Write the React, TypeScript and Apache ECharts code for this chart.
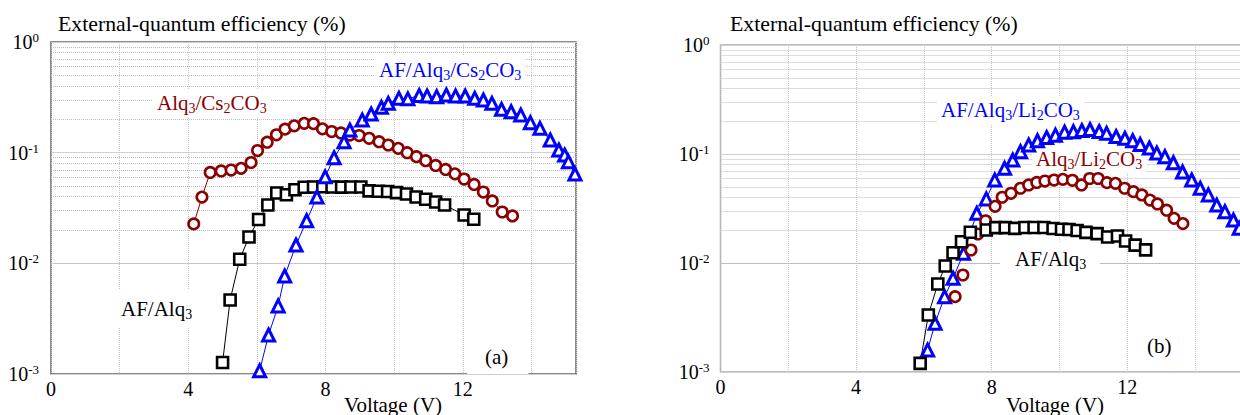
import React, { useEffect, useRef } from "react";
import * as echarts from "echarts";

// ---------- data (voltage in V, EQE in %) ----------
// Panel (a)
const A_ALQ_CS_V = [4.16, 4.4, 4.64, 4.96, 5.25, 5.54, 5.83, 6.02, 6.3, 6.57, 6.82, 7.09, 7.38, 7.65, 7.91, 8.18, 8.45, 8.71, 8.98, 9.27, 9.56, 9.83, 10.12, 10.38, 10.65, 10.92, 11.21, 11.5, 11.77, 12.04, 12.33, 12.6, 12.86, 13.15, 13.45];
const A_ALQ_CS_EQE = [0.0227, 0.0397, 0.0662, 0.0683, 0.0697, 0.0722, 0.0815, 0.1046, 0.1243, 0.1451, 0.163, 0.1749, 0.1842, 0.1827, 0.1643, 0.1553, 0.1506, 0.1444, 0.1429, 0.1349, 0.1256, 0.1173, 0.1095, 0.0999, 0.092, 0.0846, 0.0766, 0.0705, 0.0644, 0.0578, 0.0516, 0.0441, 0.0366, 0.0291, 0.0268];

const A_AF_ALQ_V = [5.0, 5.22, 5.5, 5.77, 6.05, 6.32, 6.58, 6.86, 7.11, 7.38, 7.65, 7.92, 8.19, 8.47, 8.74, 9.03, 9.27, 9.54, 9.81, 10.07, 10.36, 10.64, 10.92, 11.21, 11.47, 12.04, 12.32];
const A_AF_ALQ_EQE = [0.00127, 0.00466, 0.0109, 0.0173, 0.0249, 0.0337, 0.0432, 0.0416, 0.0462, 0.0487, 0.049, 0.0492, 0.049, 0.0488, 0.0489, 0.049, 0.0452, 0.0448, 0.0446, 0.0435, 0.0423, 0.0398, 0.0379, 0.0358, 0.0337, 0.0273, 0.025];

const A_AF_ALQ_CS_V = [6.08, 6.34, 6.62, 6.81, 7.14, 7.45, 7.75, 7.99, 8.25, 8.54, 8.71, 9.07, 9.33, 9.63, 9.83, 10.14, 10.4, 10.73, 10.96, 11.24, 11.52, 11.79, 12.07, 12.35, 12.6, 12.85, 13.13, 13.41, 13.69, 13.97, 14.25, 14.55, 14.8, 14.97, 15.08, 15.27];
const A_AF_ALQ_CS_EQE = [0.00107, 0.00225, 0.00412, 0.00768, 0.01464, 0.0243, 0.0398, 0.0605, 0.0899, 0.1256, 0.1603, 0.1973, 0.2236, 0.257, 0.2793, 0.3099, 0.3067, 0.3285, 0.3251, 0.3204, 0.332, 0.3251, 0.3251, 0.3099, 0.2991, 0.2793, 0.2465, 0.2345, 0.219, 0.1866, 0.166, 0.1302, 0.1057, 0.0953, 0.0829, 0.0642];

// Panel (b)
const B_AF_ALQ_LI_V = [6.11, 6.33, 6.61, 6.86, 7.17, 7.56, 7.84, 8.09, 8.38, 8.62, 8.85, 9.09, 9.35, 9.62, 9.88, 10.15, 10.41, 10.66, 10.9, 11.17, 11.39, 11.67, 11.93, 12.16, 12.38, 12.65, 12.87, 13.11, 13.36, 13.63, 13.9, 14.15, 14.39, 14.64, 14.88, 15.13, 15.3];
const B_AF_ALQ_LI_EQE = [0.00159, 0.0028, 0.00491, 0.00724, 0.01227, 0.0286, 0.0387, 0.0577, 0.0739, 0.0881, 0.105, 0.1209, 0.1324, 0.1417, 0.1488, 0.1585, 0.1602, 0.1643, 0.1678, 0.1609, 0.1548, 0.1447, 0.1393, 0.1324, 0.1223, 0.1135, 0.1021, 0.0945, 0.0832, 0.0684, 0.0577, 0.0485, 0.0421, 0.034, 0.0296, 0.0248, 0.0208];

const B_ALQ_LI_V = [6.92, 7.15, 7.39, 7.59, 7.82, 8.1, 8.31, 8.57, 8.85, 9.09, 9.33, 9.57, 9.84, 10.1, 10.38, 10.65, 10.89, 11.14, 11.4, 11.65, 11.92, 12.18, 12.43, 12.67, 12.89, 13.16, 13.38, 13.64];
const B_ALQ_LI_EQE = [0.00491, 0.00776, 0.01316, 0.01845, 0.0244, 0.0331, 0.0401, 0.0436, 0.0485, 0.052, 0.0548, 0.0565, 0.0577, 0.0586, 0.0574, 0.052, 0.0596, 0.0596, 0.0546, 0.0538, 0.0485, 0.0451, 0.0421, 0.0378, 0.0348, 0.0305, 0.0257, 0.023];

const B_AF_ALQ_V = [5.89, 6.13, 6.41, 6.63, 6.86, 7.11, 7.37, 7.84, 8.12, 8.4, 8.68, 8.98, 9.25, 9.54, 9.81, 10.06, 10.28, 10.52, 10.78, 11.11, 11.42, 11.71, 11.95, 12.23, 12.54];
const B_AF_ALQ_EQE = [0.0012, 0.00333, 0.00642, 0.00939, 0.01243, 0.01568, 0.01913, 0.0201, 0.0211, 0.0211, 0.0208, 0.0212, 0.0212, 0.0212, 0.0207, 0.0204, 0.0203, 0.0199, 0.0191, 0.0186, 0.0173, 0.0177, 0.0159, 0.0146, 0.0132];

// Axis scaffolding
const X_MAX_A = 15.3;
const X_MAX_B = 16;
const X_LABELS = [0, 4, 8, 12];
const Y_MIN = 0.001;
const Y_MAX = 1;
const MINOR_DECADES = [0.001, 0.01, 0.1];
const MINOR_STEPS = [2, 3, 4, 5, 6, 7, 8, 9];

const TITLE = "External-quantum efficiency (%)";
const XNAME = "Voltage (V)";

// ---------- styling ----------
const SERIF = "'Liberation Serif', 'Times New Roman', serif";
const RED = "#8b0000";
const BLUE = "#0000ff";
const BLACK = "#000000";

const pairs = (xs: number[], ys: number[]) => xs.map((x, i) => [x, ys[i]]);

const minorLines = MINOR_DECADES.flatMap((d) => MINOR_STEPS.map((m) => ({ yAxis: +(m * d).toPrecision(3) })));

const chem = (s: string) =>
  s
    .split(/(\d+)/)
    .filter((t) => t.length > 0)
    .map((t) => (/^\d+$/.test(t) ? `{s|${t}}` : `{n|${t}}`))
    .join("");

const makeRich = (size: number) => ({
  n: { fontSize: size, fontFamily: SERIF, lineHeight: size + 3 },
  s: { fontSize: 14, fontFamily: SERIF, lineHeight: 14, verticalAlign: "bottom" },
});

function textEl(text: string, x: number, y: number, color: string, extra: any = {}) {
  return {
    type: "text",
    x,
    y,
    z: 1,
    silent: true,
    style: {
      text: chem(text),
      rich: makeRich(extra.size || 21),
      fill: color,
      align: extra.align || "left",
      verticalAlign: "middle",
      ...(extra.bg ? { backgroundColor: "#ffffff", padding: extra.padding || [2, 4, 2, 4] } : {}),
    },
  };
}

function xAxis(gridIndex: number, max: number) {
  return {
    type: "value",
    gridIndex,
    min: 0,
    max,
    interval: 2,
    axisLine: { show: false },
    axisTick: { show: false },
    axisLabel: {
      margin: 5,
      fontSize: 20,
      fontFamily: SERIF,
      color: "#000",
      formatter: (v: number) => (X_LABELS.includes(v) ? String(v) : ""),
    },
    splitLine: { show: true, lineStyle: { type: "dotted", color: "#c4c4c4", width: 1 } },
  };
}

function yAxis(gridIndex: number, margin: number) {
  return {
    type: "log",
    logBase: 10,
    gridIndex,
    min: Y_MIN,
    max: Y_MAX,
    splitNumber: 3,
    axisLine: { show: false },
    axisTick: { show: false },
    axisLabel: {
      margin,
      formatter: (v: number) => `{b|10}{e|${Math.round(Math.log10(v))}}`,
      rich: {
        b: { fontSize: 20, fontFamily: SERIF, color: "#000", lineHeight: 22 },
        e: { fontSize: 13, fontFamily: SERIF, color: "#000", lineHeight: 12, verticalAlign: "top" },
      },
    },
    splitLine: { show: true, lineStyle: { type: "solid", color: "#d0d0d0", width: 1 } },
  };
}

function series(
  idx: number,
  xs: number[],
  ys: number[],
  symbol: string,
  color: string,
  size: number,
  border: number,
  showLine: boolean,
  withMinor = false
) {
  const s: any = {
    type: "line",
    xAxisIndex: idx,
    yAxisIndex: idx,
    data: pairs(xs, ys),
    symbol,
    symbolSize: size,
    showAllSymbol: true,
    smooth: false,
    itemStyle: { color: "#ffffff", borderColor: color, borderWidth: border },
    lineStyle: { color, width: showLine ? 1 : 0, opacity: showLine ? 1 : 0 },
    emphasis: { disabled: true },
    silent: true,
  };
  if (withMinor) {
    s.markLine = {
      silent: true,
      z: 0,
      symbol: ["none", "none"],
      label: { show: false },
      lineStyle: { type: "dotted", color: "#bdbdbd", width: 1 },
      emphasis: { disabled: true },
      data: minorLines,
    };
  }
  return s;
}

export default function App() {
  const ref = useRef<HTMLDivElement>(null);

  useEffect(() => {
    if (!ref.current) return;
    const chart = echarts.init(ref.current, null, { renderer: "svg" });
    const option: any = {
      animation: false,
      backgroundColor: "#ffffff",
      grid: [
        {
          left: 51,
          top: 42,
          width: 525,
          height: 332,
          show: true,
          borderColor: "#666666",
          borderWidth: 1.5,
          backgroundColor: "transparent",
          containLabel: false,
          outerBoundsMode: "none",
        },
        {
          left: 720.5,
          top: 45,
          width: 542.4,
          height: 327,
          show: true,
          borderColor: "#aaaaaa",
          borderWidth: 1.5,
          backgroundColor: "transparent",
          containLabel: false,
          outerBoundsMode: "none",
        },
      ],
      xAxis: [xAxis(0, X_MAX_A), xAxis(1, X_MAX_B)],
      yAxis: [yAxis(0, 12), yAxis(1, 11)],
      series: [
        series(0, A_ALQ_CS_V, A_ALQ_CS_EQE, "circle", RED, 10.5, 2.6, true, true),
        series(0, A_AF_ALQ_V, A_AF_ALQ_EQE, "rect", BLACK, 11, 2.6, true),
        series(0, A_AF_ALQ_CS_V, A_AF_ALQ_CS_EQE, "triangle", BLUE, 12, 3, true),
        series(1, B_AF_ALQ_LI_V, B_AF_ALQ_LI_EQE, "triangle", BLUE, 12, 3, true, true),
        series(1, B_ALQ_LI_V, B_ALQ_LI_EQE, "circle", RED, 10.5, 2.6, false),
        series(1, B_AF_ALQ_V, B_AF_ALQ_EQE, "rect", BLACK, 11, 2.6, true),
      ],
      graphic: [
        // panel (a)
        textEl(TITLE, 58, 24, BLACK, { size: 21.8 }),
        textEl("AF/Alq3/Cs2CO3", 375, 70, BLUE, { bg: true }),
        textEl("Alq3/Cs2CO3", 153, 103, RED, { bg: true }),
        textEl("AF/Alq3", 102, 309, BLACK, { bg: true, padding: [7, 6, 7, 19] }),
        textEl("(a)", 467, 357, BLACK, { bg: true, padding: [5, 20, 5, 18] }),
        textEl(XNAME, 393, 405, BLACK, { align: "center" }),
        // panel (b)
        textEl(TITLE, 730, 24, BLACK, { size: 21.8 }),
        textEl("AF/Alq3/Li2CO3", 937, 110, BLUE, { bg: true }),
        textEl("Alq3/Li2CO3", 1032, 159, RED, { bg: true }),
        textEl("AF/Alq3", 1000, 259, BLACK, { bg: true, padding: [4, 14, 4, 15] }),
        textEl("(b)", 1134, 346, BLACK, { bg: true, padding: [5, 17, 5, 13] }),
        textEl(XNAME, 1055, 405, BLACK, { align: "center" }),
      ],
    };
    chart.setOption(option);
    return () => chart.dispose();
  }, []);

  return (
    <div
      style={{
        position: "absolute",
        left: 0,
        top: 0,
        width: 1240,
        height: 415,
        overflow: "hidden",
        background: "#ffffff",
      }}
    >
      <div ref={ref} style={{ width: 1240, height: 415 }} />
    </div>
  );
}
